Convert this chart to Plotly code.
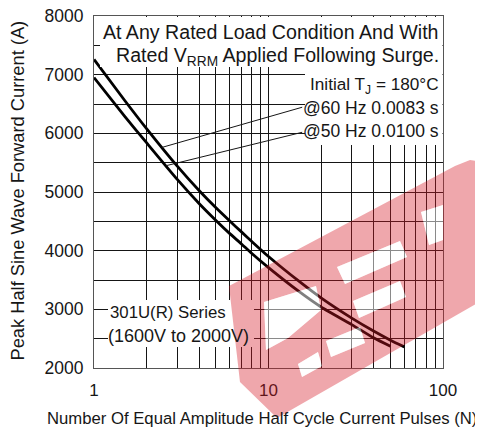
import plotly.graph_objects as go
import numpy as np

# ---------------- data ----------------
pulses_60hz = [1, 1.5, 2, 3, 4, 5, 6, 7, 8, 10, 15, 20, 30, 40, 50, 60]
current_60hz = [7260, 6560, 6080, 5440, 5025, 4730, 4505, 4320, 4160, 3900, 3475, 3195, 2850, 2630, 2475, 2360]

pulses_50hz = [1, 1.5, 2, 3, 4, 5, 6, 7, 8, 10, 15, 20, 30, 40, 50]
current_50hz = [6950, 6290, 5840, 5215, 4805, 4515, 4290, 4115, 3955, 3710, 3300, 3040, 2740, 2515, 2370]

x_major = [1, 10, 100]
x_major_text = ["1", "10", "100"]
x_minor = [2, 3, 4, 5, 6, 7, 8, 9, 20, 30, 40, 50, 60, 70, 80, 90]
y_major = [2000, 3000, 4000, 5000, 6000, 7000, 8000]
y_major_text = ["2000", "3000", "4000", "5000", "6000", "7000", "8000"]
y_minor = [2500, 3500, 4500, 5500, 6500, 7500]

FONT = "Liberation Sans, Arial, sans-serif"
INK = "#161616"

# screen geometry (page body has an 8px margin, so the figure starts at 8,8)
OFF = 8
W, H = 483 - OFF, 430 - OFF
# plot area in screen pixels
L, R, T, B = 94, 443, 16, 368


def px(xp, yp):
    """screen pixel -> paper coordinates"""
    return (xp - L) / (R - L), (B - yp) / (B - T)


def sub_path(pts):
    s = ""
    for i, (a, b) in enumerate(pts):
        xx, yy = px(a, b)
        s += ("M" if i == 0 else "L") + f"{xx:.4f},{yy:.4f} "
    return s + "Z "


fig = go.Figure()
for xs, ys in [(pulses_60hz, current_60hz), (pulses_50hz, current_50hz)]:
    fig.add_trace(go.Scatter(x=xs, y=ys, mode="lines",
                             line=dict(color="black", width=2.8, shape="spline", smoothing=0.6),
                             showlegend=False, hoverinfo="skip"))

shapes = []
# white text boxes covering the grid
for (x0, y0, x1, y1) in [(100, 17, 442.5, 67), (305, 67, 442.5, 145), (108, 300, 254, 347)]:
    a0, b0 = px(x0, y1)
    a1, b1 = px(x1, y0)
    shapes.append(dict(type="rect", xref="paper", yref="paper", x0=a0, y0=b0, x1=a1, y1=b1,
                       fillcolor="white", line=dict(width=0), layer="above"))

# leader lines from curves to labels
lead_60_n = 2.45
lead_50_n = 2.58
lead_60_y = float(np.interp(np.log10(lead_60_n), np.log10(pulses_60hz), current_60hz))
lead_50_y = float(np.interp(np.log10(lead_50_n), np.log10(pulses_50hz), current_50hz))
shapes.append(dict(type="line", xref="x", yref="y", x0=lead_60_n, y0=lead_60_y,
                   x1=15.6, y1=6445, line=dict(color=INK, width=1), layer="above"))
shapes.append(dict(type="line", xref="x", yref="y", x0=lead_50_n, y0=lead_50_y,
                   x1=15.6, y1=6018, line=dict(color=INK, width=1), layer="above"))

# watermark: red band with letter-shaped holes, holes lightly whitened
red_band = [(229, 286), (455, 166), (470, 160), (483, 162), (483, 300), (277, 418), (240, 382)]
holes = [
    [(264, 302), (316, 286), (321, 310), (288, 338), (266, 350)],
    [(337, 267), (400, 241), (407, 257), (345, 284)],
    [(421, 212), (443, 205), (443, 240), (429, 245)],
    [(353, 301), (400, 281), (406, 297), (359, 318)],
    [(326, 341), (360, 327), (365, 343), (331, 357)],
    [(298, 364), (318, 352), (322, 366), (302, 377)],
]
band_path = sub_path(red_band) + "".join(sub_path(h) for h in holes)
shapes.append(dict(type="path", xref="paper", yref="paper", path=band_path, fillrule="evenodd",
                   fillcolor="rgba(214,24,36,0.38)", line=dict(width=0), layer="above"))
for h in holes:
    shapes.append(dict(type="path", xref="paper", yref="paper", path=sub_path(h),
                       fillcolor="rgba(255,255,255,0.5)", line=dict(width=0), layer="above"))

annotations = []


def add_text(text, xp, yp, anchor="right", size=17.5, angle=0):
    xx, yy = px(xp, yp)
    annotations.append(dict(text=text, xref="paper", yref="paper", x=xx, y=yy,
                            xanchor=anchor, yanchor="middle", showarrow=False, textangle=angle,
                            font=dict(family=FONT, size=size, color=INK)))


add_text("At Any Rated Load Condition And With", 441, 32, size=19.6)
add_text("Rated V<sub>RRM</sub> Applied Following Surge.", 441, 56, size=19.6)
add_text("Initial T<sub>J</sub> = 180°C", 441, 85, size=17.2)
add_text("@60 Hz 0.0083 s", 441, 108)
add_text("@50 Hz 0.0100 s", 441, 131)
add_text("301U(R) Series", 108, 312, anchor="left", size=16.8)
add_text("(1600V to 2000V)", 106, 336, anchor="left", size=18)
# axis titles
add_text("Number Of Equal Amplitude Half Cycle Current Pulses (N)", 262, 418, anchor="center", size=16.7)
add_text("Peak Half Sine Wave Forward Current (A)", 17, 190.5, anchor="center", size=18.3, angle=-90)

fig.update_layout(
    width=W, height=H,
    margin=dict(l=L - OFF, r=W - (R - OFF), t=T - OFF, b=H - (B - OFF), autoexpand=False),
    paper_bgcolor="white", plot_bgcolor="white",
    font=dict(family=FONT, size=16, color=INK),
    shapes=shapes, annotations=annotations,
    showlegend=False,
)
fig.update_xaxes(type="log", range=[0, 2], tickvals=x_major, ticktext=x_major_text,
                 showgrid=True, gridcolor="#151515", gridwidth=1, automargin=False,
                 minor=dict(tickvals=x_minor, showgrid=True, gridcolor="#151515", gridwidth=1, ticks=""),
                 showline=True, linecolor="#555", linewidth=1, mirror=True,
                 ticks="outside", ticklen=7, tickcolor="rgba(0,0,0,0)", tickfont=dict(size=17),
                 ticklabeloverflow="allow")
fig.update_yaxes(range=[2000, 8000], tickvals=y_major, ticktext=y_major_text,
                 showgrid=True, gridcolor="#151515", gridwidth=1, automargin=False,
                 minor=dict(tickvals=y_minor, showgrid=True, gridcolor="#151515", gridwidth=1, ticks=""),
                 showline=True, linecolor="#555", linewidth=1, mirror=True,
                 ticks="outside", ticklen=6, tickcolor="rgba(0,0,0,0)", tickfont=dict(size=17.5),
                 ticklabeloverflow="allow")

fig.write_html("out.html")
